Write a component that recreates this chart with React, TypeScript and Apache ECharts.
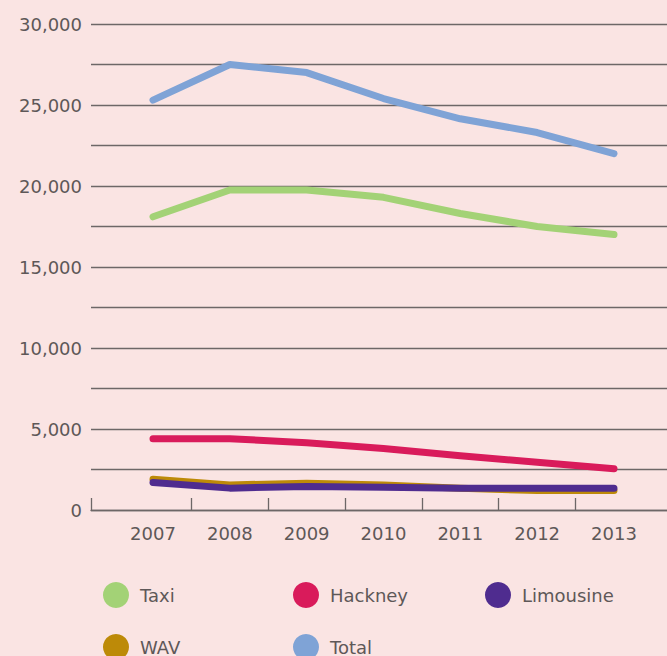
import React, { useEffect, useRef } from "react";
import * as echarts from "echarts";

const years = [2007, 2008, 2009, 2010, 2011, 2012, 2013];
const taxi = [18100, 19750, 19750, 19300, 18300, 17500, 17000];
const hackney = [4400, 4400, 4150, 3800, 3350, 2950, 2550];
const limousine = [1700, 1350, 1450, 1400, 1350, 1350, 1350];
const wav = [1900, 1550, 1650, 1550, 1350, 1200, 1200];
const total = [25300, 27500, 27000, 25400, 24150, 23300, 22000];
const yTickLabels = [0, 5000, 10000, 15000, 20000, 25000, 30000];

const FONT = "DejaVu Sans";
const TEXT_COLOR = "#5e5858";
const LINE_COLOR = "#6d6767";

export default function App() {
  const ref = useRef<HTMLDivElement>(null);
  useEffect(() => {
    if (!ref.current) return;
    const chart = echarts.init(ref.current, undefined, { renderer: "svg" });
    const xMin = 2006.193;
    const xMax = 2013.69;
    const tickVals = [xMin, ...years.slice(1).map((y) => y - 0.5)];
    const mk = (name: string, data: number[], color: string) => ({
      name,
      type: "line",
      data: years.map((y, i) => [y, data[i]]),
      symbol: "none",
      lineStyle: { color, width: 7, cap: "round", join: "round" },
      itemStyle: { color },
    });
    const legendBase = {
      orient: "horizontal",
      icon: "circle",
      itemWidth: 26,
      itemHeight: 26,
      selectedMode: false,
      padding: 0,
      textStyle: { fontFamily: FONT, fontSize: 18, color: TEXT_COLOR, padding: [0, 0, 0, 6] },
    };
    chart.setOption({
      animation: false,
      backgroundColor: "#fae4e3",
      grid: { left: 91, right: 0, top: 24, bottom: 146, outerBoundsMode: "none" },
      legend: [
        { ...legendBase, left: 103, top: 582, data: ["Taxi"] },
        { ...legendBase, left: 293, top: 582, data: ["Hackney"] },
        { ...legendBase, left: 485, top: 582, data: ["Limousine"] },
        { ...legendBase, left: 103, top: 634, data: ["WAV"] },
        { ...legendBase, left: 293, top: 634, data: ["Total"] },
      ],
      xAxis: {
        type: "value",
        min: xMin,
        max: xMax,
        splitLine: { show: false },
        axisLine: { show: true, lineStyle: { color: LINE_COLOR, width: 1.3 } },
        axisTick: {
          show: true,
          inside: true,
          length: 12,
          customValues: tickVals,
          lineStyle: { color: LINE_COLOR, width: 1.3 },
        },
        axisLabel: {
          customValues: years,
          formatter: (v: number) => String(Math.round(v)),
          fontFamily: FONT,
          fontSize: 18,
          color: TEXT_COLOR,
          margin: 14,
        },
      },
      yAxis: {
        type: "value",
        min: 0,
        max: 30000,
        interval: 2500,
        axisLine: { show: false },
        axisTick: { show: false },
        splitLine: { show: true, lineStyle: { color: LINE_COLOR, width: 1.3 } },
        axisLabel: {
          customValues: yTickLabels,
          formatter: (v: number) => v.toLocaleString("en-US"),
          fontFamily: FONT,
          fontSize: 18,
          color: TEXT_COLOR,
          margin: 9,
        },
      },
      series: [
        mk("Taxi", taxi, "#a3d276"),
        mk("Hackney", hackney, "#d91b5b"),
        mk("WAV", wav, "#bd8a08"),
        mk("Limousine", limousine, "#4f2c8f"),
        mk("Total", total, "#7fa3d6"),
      ],
    });
    return () => chart.dispose();
  }, []);
  return (
    <div
      ref={ref}
      style={{ position: "fixed", left: 0, top: 0, width: 667, height: 656 }}
    />
  );
}
